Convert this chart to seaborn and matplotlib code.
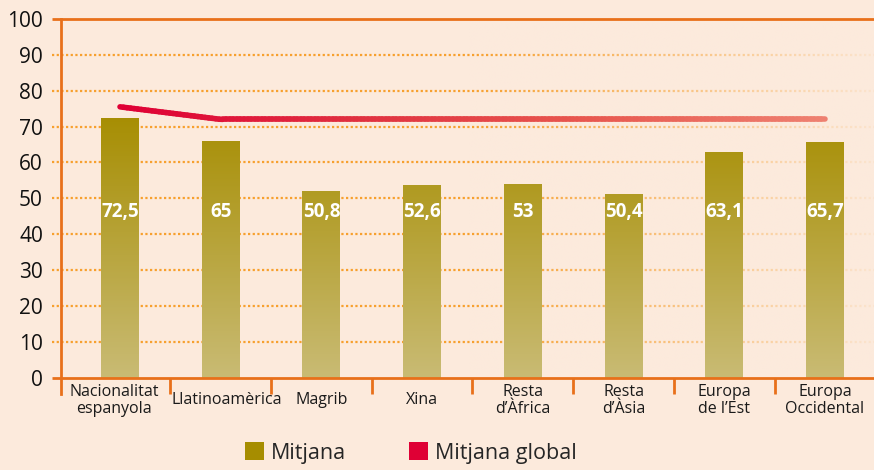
import numpy as np
import pandas as pd
import matplotlib
matplotlib.use("Agg")
import matplotlib.pyplot as plt
import matplotlib.transforms as mtransforms
import seaborn as sns
from matplotlib.collections import LineCollection
from matplotlib.patches import Patch
from matplotlib.colors import LinearSegmentedColormap, to_rgb

categories = ["Nacionalitat\nespanyola", "Llatinoamèrica", "Magrib", "Xina",
              "Resta\nd’Àfrica", "Resta\nd’Àsia", "Europa\nde l’Est", "Europa\nOccidental"]
# bar heights as drawn in the picture
mitjana = [72.5, 66.1, 51.9, 53.6, 54.1, 51.3, 62.8, 65.6]
# printed value labels
value_labels = ["72,5", "65", "50,8", "52,6", "53", "50,4", "63,1", "65,7"]
mitjana_global = [75.5, 72, 72, 72, 72, 72, 72, 72]
yticks = [0, 10, 20, 30, 40, 50, 60, 70, 80, 90, 100]

BG = "#FCEADC"
ORANGE = "#E8701A"
GRID = "#F7A02E"
BAR_TOP = "#A68D00"
BAR_BOT = "#C9BB74"
RED_START = "#DF0035"
RED_END = "#EE8070"

sns.set_theme(style="white")
plt.rcParams["font.family"] = ["Open Sans", "DejaVu Sans"]

fig = plt.figure(figsize=(8.74, 4.70), dpi=100, facecolor=BG)
ax = fig.add_axes([61/874, 1-377.5/470, 1-61/874, (377.5-19)/470])
ax.set_facecolor(BG)

XMIN, XMAX = -0.586, 7.487
GL = -0.675

df = pd.DataFrame({"cat": categories, "val": mitjana})
sns.barplot(data=df, x="cat", y="val", ax=ax, width=0.377, color=BAR_TOP,
            saturation=1, zorder=3)

# gradient fill for bars
cmap = LinearSegmentedColormap.from_list("bar", [BAR_BOT, BAR_TOP])
for p in ax.patches:
    x0 = p.get_x()
    w, h = p.get_width(), p.get_height()
    p.set_facecolor("none")
    p.set_edgecolor("none")
    g = np.linspace(0, h / 75.0, 256).reshape(-1, 1)
    ax.imshow(g, cmap=cmap, vmin=0, vmax=1, aspect="auto",
              extent=[x0, x0 + w, 0, h], origin="lower", zorder=3,
              interpolation="bilinear")

# value labels
for i, lab in enumerate(value_labels):
    ax.text(i, 46.3, lab, ha="center", va="center", color="white",
            fontsize=13.5, fontweight="bold", zorder=5)

# dotted gridlines, extending slightly left of the spine
for y in yticks[1:-1]:
    ax.plot([GL, XMAX], [y, y], color=GRID, lw=1.6, ls=(0, (1, 1.1)),
            clip_on=False, zorder=1, solid_capstyle="butt")

# fade gridlines at right
fade = np.zeros((2, 256, 4))
fade[..., :3] = to_rgb(BG)
fade[..., 3] = np.clip((np.linspace(0, 1, 256) - 0.5) / 0.5, 0, 1)[None, :] * 0.92
ax.imshow(fade, extent=[XMIN, XMAX, 0.5, 99.5], aspect="auto", zorder=2,
          interpolation="bilinear")
ax.set_xlim(XMIN, XMAX)
ax.set_ylim(0, 100)

# global mean line with gradient
sns.lineplot(x=np.arange(len(mitjana_global)), y=mitjana_global, ax=ax,
             color=RED_START, lw=0, zorder=4)
xs = np.arange(len(mitjana_global), dtype=float)
ys = np.array(mitjana_global, dtype=float)
n = 200
t = np.linspace(0, len(xs) - 1, n)
xi = np.interp(t, np.arange(len(xs)), xs)
yi = np.interp(t, np.arange(len(xs)), ys)
pts = np.column_stack([xi, yi]).reshape(-1, 1, 2)
segs = np.concatenate([pts[:-1], pts[1:]], axis=1)
lcmap = LinearSegmentedColormap.from_list("ln", [RED_START, "#E0303F", "#E8584F", RED_END])
lc = LineCollection(segs, colors=lcmap(np.linspace(0, 1, n - 1)), linewidths=4.0,
                    capstyle="round", zorder=4)
ax.add_collection(lc)

# spines
ax.spines["right"].set_visible(False)
ax.spines["top"].set_visible(False)
ax.spines["bottom"].set_visible(False)
ax.spines["left"].set_color(ORANGE)
ax.spines["left"].set_linewidth(2)
ax.spines["left"].set_bounds(-4.5, 100)
ax.plot([GL, XMAX], [100, 100], color=ORANGE, lw=2, clip_on=False, zorder=6,
        solid_capstyle="butt")
ax.plot([GL, XMAX], [0, 0], color=ORANGE, lw=2, clip_on=False, zorder=6,
        solid_capstyle="butt")

# separators below axis
for b in np.arange(0.5, len(categories) - 0.5, 1):
    ax.plot([b, b], [0, -4.5], color=ORANGE, lw=2, clip_on=False, zorder=6,
            solid_capstyle="butt")

ax.set_yticks(yticks)
ax.set_yticklabels([str(v) for v in yticks], fontsize=15, color="#111111",
                   fontweight="medium")
ax.tick_params(axis="y", length=0, pad=13)
ax.set_xticks(range(len(categories)))
ax.set_xticklabels(categories, fontsize=11.5, color="#1a1a1a", linespacing=1.1)
ax.tick_params(axis="x", length=0, pad=16.5)
ax.set_xlabel("")
ax.set_ylabel("")
ax.grid(False)

# vertically centre the category labels and nudge the first two apart
label_nudge_px = [-6, 6, 0, 0, 0, 0, 0, 0]
for lbl, dx in zip(ax.get_xticklabels(), label_nudge_px):
    lbl.set_verticalalignment("center")
    if dx:
        lbl.set_transform(lbl.get_transform() +
                          mtransforms.ScaledTranslation(dx / 100, 0, fig.dpi_scale_trans))

handles = [Patch(facecolor=BAR_TOP, edgecolor="none", label="Mitjana"),
           Patch(facecolor=RED_START, edgecolor="none", label="Mitjana global")]
fig.legend(handles=handles, loc="center", bbox_to_anchor=(411/874, 1-453/470),
           ncol=2, frameon=False, fontsize=15.5, handlelength=0.88, handleheight=0.88,
           columnspacing=2.9, handletextpad=0.35)

fig.savefig("out.png", dpi=100, facecolor=BG)
